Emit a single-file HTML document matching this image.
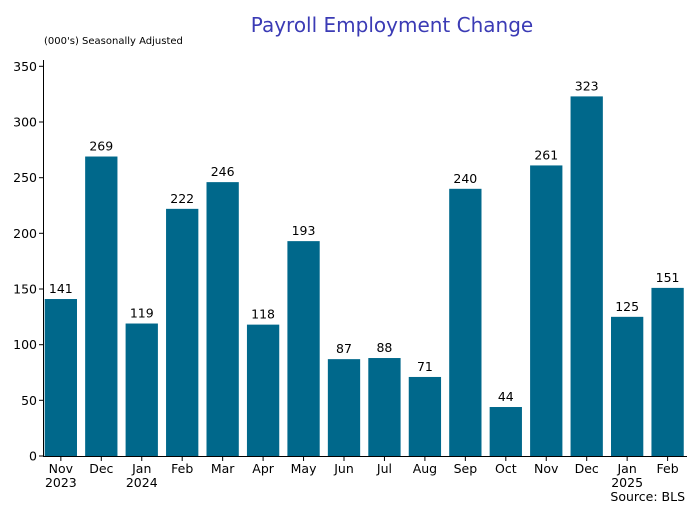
<!DOCTYPE html>
<html><head><style>body{margin:0;background:#fff}svg{font-family:"DejaVu Sans","Liberation Sans",sans-serif}</style></head>
<body>
<svg width="700" height="517" xmlns="http://www.w3.org/2000/svg">
<text x="392" y="32" font-size="20" fill="#3b3bb5" text-anchor="middle">Payroll Employment Change</text>
<text x="44" y="44" font-size="10" fill="#000">(000's) Seasonally Adjusted</text>
<g fill="#00688b">
<rect x="44.7" y="299.02" width="32.3" height="156.98"/>
<rect x="85.15" y="156.52" width="32.3" height="299.48"/>
<rect x="125.6" y="323.52" width="32.3" height="132.48"/>
<rect x="166.05" y="208.85" width="32.3" height="247.15"/>
<rect x="206.5" y="182.13" width="32.3" height="273.87"/>
<rect x="246.95" y="324.63" width="32.3" height="131.37"/>
<rect x="287.4" y="241.13" width="32.3" height="214.87"/>
<rect x="327.85" y="359.14" width="32.3" height="96.86"/>
<rect x="368.3" y="358.03" width="32.3" height="97.97"/>
<rect x="408.75" y="376.96" width="32.3" height="79.04"/>
<rect x="449.2" y="188.81" width="32.3" height="267.19"/>
<rect x="489.65" y="407.01" width="32.3" height="48.99"/>
<rect x="530.1" y="165.43" width="32.3" height="290.57"/>
<rect x="570.55" y="96.4" width="32.3" height="359.6"/>
<rect x="611" y="316.84" width="32.3" height="139.16"/>
<rect x="651.45" y="287.89" width="32.3" height="168.11"/>
</g>
<g font-size="12.5" text-anchor="middle" fill="#000">
<text x="60.85" y="293">141</text>
<text x="101.3" y="150.5">269</text>
<text x="141.75" y="317.5">119</text>
<text x="182.2" y="202.8">222</text>
<text x="222.65" y="176.1">246</text>
<text x="263.1" y="318.6">118</text>
<text x="303.55" y="235.1">193</text>
<text x="344" y="353.1">87</text>
<text x="384.45" y="352">88</text>
<text x="424.9" y="371">71</text>
<text x="465.35" y="182.8">240</text>
<text x="505.8" y="401">44</text>
<text x="546.25" y="159.4">261</text>
<text x="586.7" y="90.4">323</text>
<text x="627.15" y="310.8">125</text>
<text x="667.6" y="281.9">151</text>
</g>
<line x1="43.5" y1="60" x2="43.5" y2="457" stroke="#000" stroke-width="1"/>
<line x1="43" y1="456.5" x2="687" y2="456.5" stroke="#000" stroke-width="1"/>
<g stroke="#000">
<line x1="39" y1="456" x2="43" y2="456"/><line x1="39" y1="400.3" x2="43" y2="400.3"/>
<line x1="39" y1="344.7" x2="43" y2="344.7"/><line x1="39" y1="289" x2="43" y2="289"/>
<line x1="39" y1="233.3" x2="43" y2="233.3"/><line x1="39" y1="177.7" x2="43" y2="177.7"/>
<line x1="39" y1="122" x2="43" y2="122"/><line x1="39" y1="66.3" x2="43" y2="66.3"/>
<line x1="60.85" y1="457" x2="60.85" y2="461"/><line x1="101.3" y1="457" x2="101.3" y2="461"/>
<line x1="141.75" y1="457" x2="141.75" y2="461"/><line x1="182.2" y1="457" x2="182.2" y2="461"/>
<line x1="222.65" y1="457" x2="222.65" y2="461"/><line x1="263.1" y1="457" x2="263.1" y2="461"/>
<line x1="303.55" y1="457" x2="303.55" y2="461"/><line x1="344" y1="457" x2="344" y2="461"/>
<line x1="384.45" y1="457" x2="384.45" y2="461"/><line x1="424.9" y1="457" x2="424.9" y2="461"/>
<line x1="465.35" y1="457" x2="465.35" y2="461"/><line x1="505.8" y1="457" x2="505.8" y2="461"/>
<line x1="546.25" y1="457" x2="546.25" y2="461"/><line x1="586.7" y1="457" x2="586.7" y2="461"/>
<line x1="627.15" y1="457" x2="627.15" y2="461"/><line x1="667.6" y1="457" x2="667.6" y2="461"/>
</g>
<g font-size="12.5" text-anchor="end" fill="#000">
<text x="37" y="460.5">0</text><text x="37" y="404.8">50</text><text x="37" y="349.2">100</text>
<text x="37" y="293.5">150</text><text x="37" y="237.8">200</text><text x="37" y="182.2">250</text>
<text x="37" y="126.5">300</text><text x="37" y="70.8">350</text>
</g>
<g font-size="12.5" text-anchor="middle" fill="#000">
<text x="60.85" y="473">Nov</text><text x="60.85" y="487">2023</text>
<text x="101.3" y="473">Dec</text>
<text x="141.75" y="473">Jan</text><text x="141.75" y="487">2024</text>
<text x="182.2" y="473">Feb</text>
<text x="222.65" y="473">Mar</text>
<text x="263.1" y="473">Apr</text>
<text x="303.55" y="473">May</text>
<text x="344" y="473">Jun</text>
<text x="384.45" y="473">Jul</text>
<text x="424.9" y="473">Aug</text>
<text x="465.35" y="473">Sep</text>
<text x="505.8" y="473">Oct</text>
<text x="546.25" y="473">Nov</text>
<text x="586.7" y="473">Dec</text>
<text x="627.15" y="473">Jan</text><text x="627.15" y="487">2025</text>
<text x="667.6" y="473">Feb</text>
</g>
<text x="685" y="501" font-size="12.5" text-anchor="end">Source: BLS</text>
</svg>
</body></html>
